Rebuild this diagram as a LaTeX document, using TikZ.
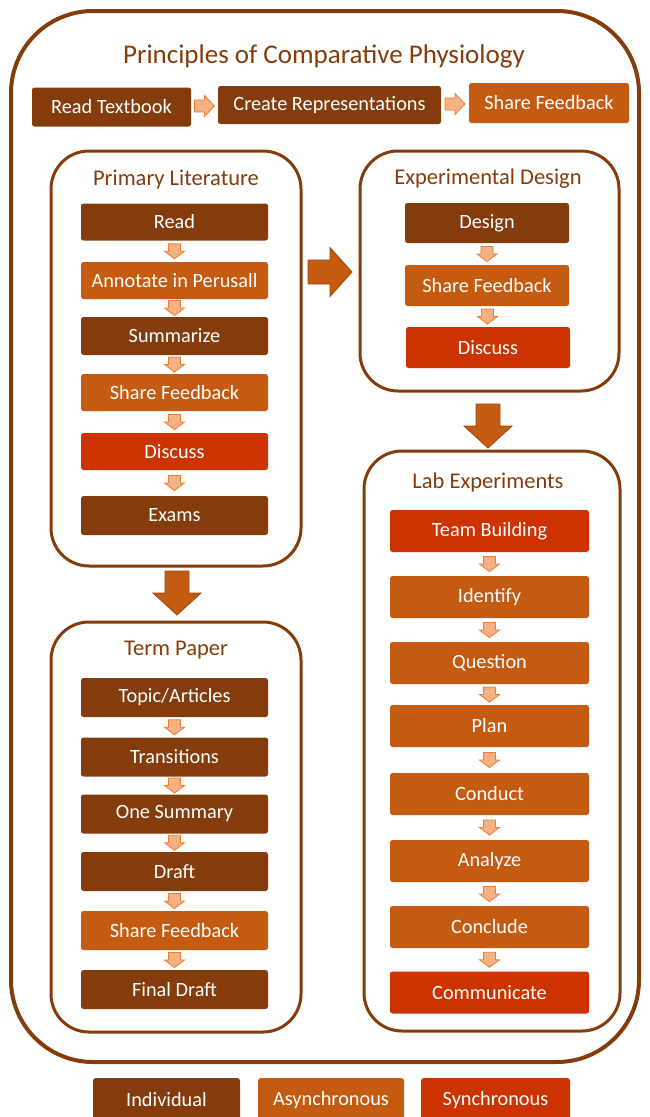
\documentclass[tikz,border=0pt]{standalone}
\usepackage{fontspec}
\setmainfont{Carlito}
\usetikzlibrary{calc}
\definecolor{dk}{HTML}{843C0C}
\definecolor{og}{HTML}{C55A11}
\definecolor{rd}{HTML}{CC3300}
\definecolor{afill}{HTML}{F4B183}
\definecolor{aline}{HTML}{ED7D31}
\definecolor{bline}{HTML}{9E4510}
\begin{document}
\begin{tikzpicture}[x=1pt,y=-1pt,
  box/.style={rounded corners=2.5pt, text=white, font=\fontsize{20.3}{24}\selectfont, inner sep=0pt},
  indiv/.style={box, fill=dk},
  async/.style={box, fill=og},
  sync/.style={box, fill=rd},
  wide/.style={minimum width=187pt},
  cont/.style={draw=dk, line width=3pt, rounded corners=38pt},
  ctitle/.style={text=dk, font=\fontsize{22.5}{26}\selectfont},
  sarrow/.style={draw=aline, fill=afill, line width=0.8pt, line join=miter},
  barrow/.style={draw=bline, fill=og, line width=0.8pt, line join=miter},
  pics/dsmall/.style={code={\draw[sarrow] (-6,-7.5) -- (6,-7.5) -- (6,0) -- (10,0) -- (0,7.5) -- (-10,0) -- (-6,0) -- cycle;}},
  pics/rsmall/.style={code={\draw[sarrow] (-10,-6) -- (0,-6) -- (0,-10.5) -- (10,0) -- (0,10.5) -- (0,6) -- (-10,6) -- cycle;}},
  pics/dbig/.style={code={\draw[barrow] (-12,-22) -- (12,-22) -- (12,0) -- (24,0) -- (0,22) -- (-24,0) -- (-12,0) -- cycle;}},
  pics/rbig/.style={code={\draw[barrow] (-22,-12) -- (0,-12) -- (0,-24.5) -- (22,0) -- (0,24.5) -- (0,12) -- (-22,12) -- cycle;}},
]
\useasboundingbox (0,0) rectangle (649,1117);
% outer frame
\draw[draw=dk, line width=4pt, rounded corners=82pt] (11,11) rectangle (639,1062);
\node[text=dk, font=\fontsize{27}{31}\selectfont] (title) at (324,56) {Principles of Comparative Physiology};
% top row
\node[indiv, minimum width=159pt, minimum height=39pt] (t1) at (111.5,107) {Read Textbook};
\node[indiv, minimum width=223pt, minimum height=38pt] (t2) at (329.5,105) {Create Representations};
\node[async, minimum width=160pt, minimum height=40pt] (t3) at (549,103) {Share Feedback};
\pic (ta1) at ($(t1.east)!0.5!(t2.west)$) {rsmall};
\pic (ta2) at ($(t2.east)!0.5!(t3.west)$) {rsmall};

% Primary literature
\draw[cont] (51,151) rectangle (301,566);
\node[ctitle] (plt) at (176,180) {Primary Literature};
\node[indiv, wide, minimum height=37pt] (p1) at (174.5,222) {Read};
\node[async, wide, minimum height=37pt] (p2) at (174.5,280.5) {Annotate in Perusall};
\node[indiv, wide, minimum height=38pt] (p3) at (174.5,336) {Summarize};
\node[async, wide, minimum height=37pt] (p4) at (174.5,392.5) {Share Feedback};
\node[sync, wide, minimum height=37pt] (p5) at (174.5,451.5) {Discuss};
\node[indiv, wide, minimum height=39pt] (p6) at (174.5,515.5) {Exams};
\foreach \a/\b in {p1/p2,p2/p3,p3/p4,p4/p5,p5/p6}
  \pic (a\a) at ($(\a.south)!0.5!(\b.north)$) {dsmall};

% Experimental design
\draw[cont] (360,151) rectangle (619,391);
\node[ctitle] (edt) at (488,179) {Experimental Design};
\node[indiv, minimum width=164pt, minimum height=40pt] (e1) at (487,223) {Design};
\node[async, minimum width=164pt, minimum height=41pt] (e2) at (487,285.5) {Share Feedback};
\node[sync, minimum width=164pt, minimum height=41pt] (e3) at (488,347.5) {Discuss};
\foreach \a/\b in {e1/e2,e2/e3}
  \pic (a\a) at ($(\a.south)!0.5!(\b.north)$) {dsmall};

% Lab experiments
\draw[cont] (364,451) rectangle (620,1031);
\node[ctitle] (let) at (488,482) {Lab Experiments};
\foreach \n/\s/\y/\t in {l1/sync/531/Team Building, l2/async/597/Identify, l3/async/663/Question, l4/async/726/Plan, l5/async/794/Conduct, l6/async/861/Analyze, l7/async/927/Conclude, l8/sync/992.5/Communicate}
  \node[\s, minimum width=199pt, minimum height=42pt] (\n) at (489.5,\y) {\t};
\foreach \a/\b in {l1/l2,l2/l3,l3/l4,l4/l5,l5/l6,l6/l7,l7/l8}
  \pic (a\a) at ($(\a.south)!0.5!(\b.north)$) {dsmall};

% Term paper
\draw[cont] (51,622) rectangle (301,1032);
\node[ctitle] (tpt) at (176,650) {Term Paper};
\foreach \n/\s/\y/\t in {q1/indiv/697.5/Topic\slash Articles, q2/indiv/757/Transitions, q3/indiv/814/One Summary, q4/indiv/871.5/Draft, q5/async/930.5/Share Feedback, q6/indiv/989.5/Final Draft}
  \node[\s, wide, minimum height=39pt] (\n) at (174.5,\y) {\t};
\foreach \a/\b in {q1/q2,q2/q3,q3/q4,q4/q5,q5/q6}
  \pic (a\a) at ($(\a.south)!0.5!(\b.north)$) {dsmall};

% big arrows
\pic (B1) at (330,272) {rbig};
\pic (B2) at (488,426) {dbig};
\pic (B3) at (177,593) {dbig};

% legend
\node[indiv, minimum width=147pt, minimum height=44pt, anchor=north] (g1) at (166.5,1078) {\raisebox{2pt}{Individual}};
\node[async, minimum width=146pt, minimum height=44pt, anchor=north] (g2) at (331,1078) {\raisebox{2pt}{Asynchronous}};
\node[sync, minimum width=149pt, minimum height=44pt, anchor=north] (g3) at (495.5,1078) {\raisebox{2pt}{Synchronous}};
\end{tikzpicture}
\end{document}
